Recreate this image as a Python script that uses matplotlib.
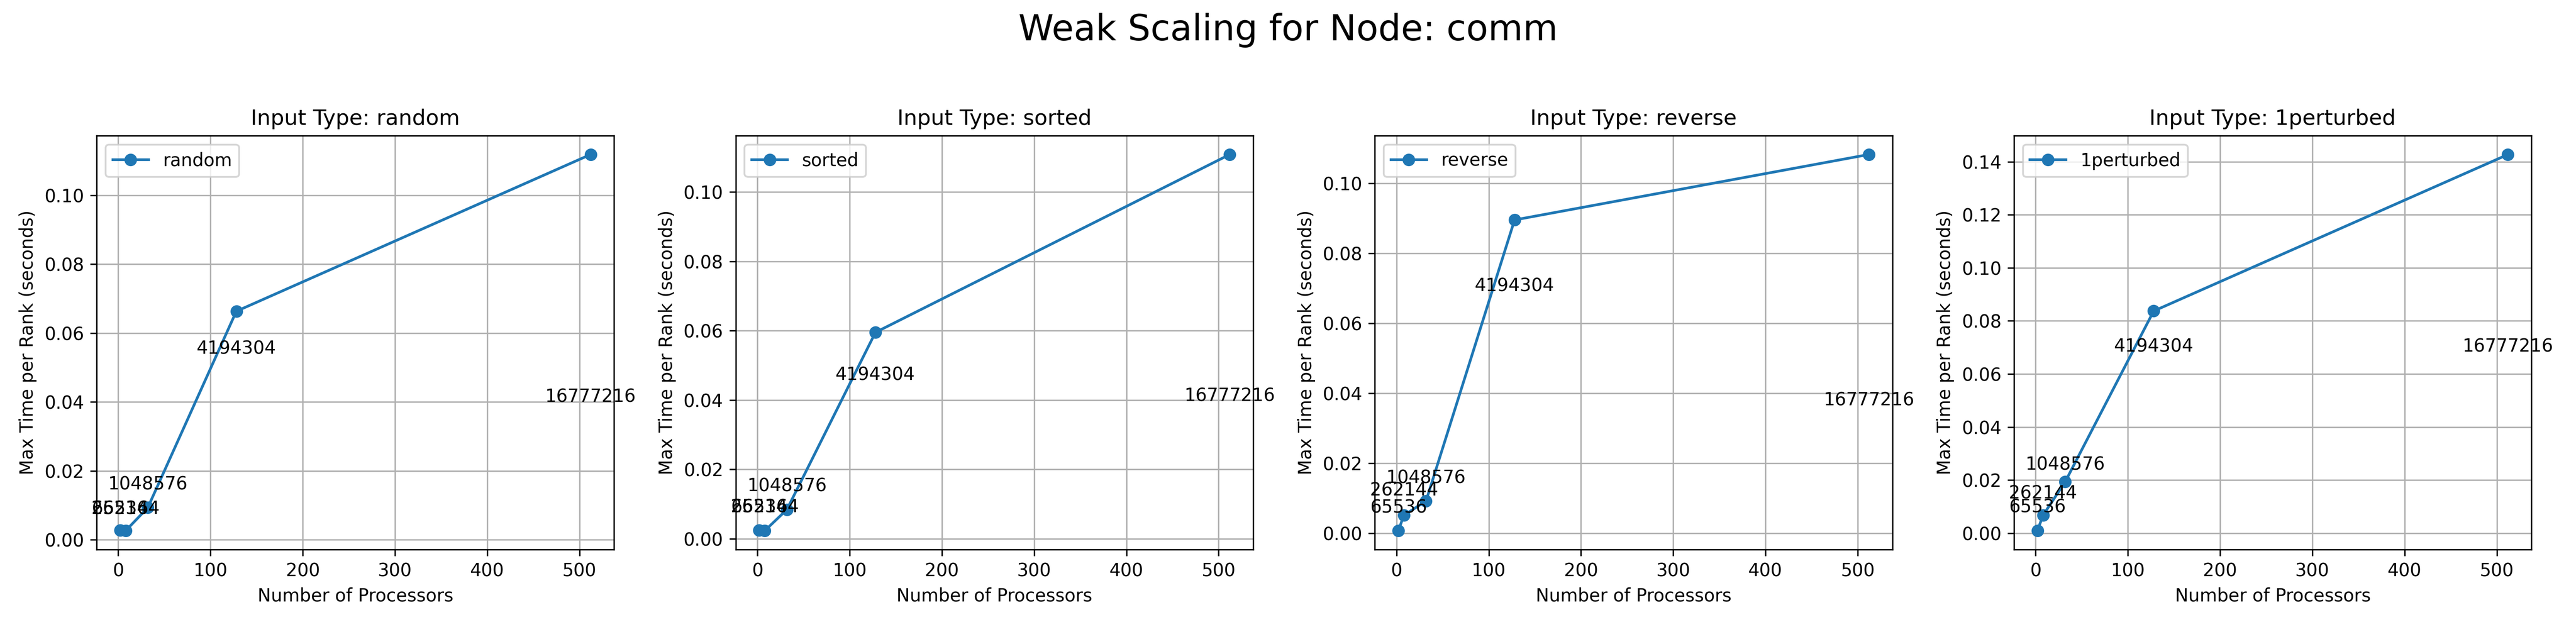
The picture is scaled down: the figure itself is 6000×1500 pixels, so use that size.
import matplotlib
matplotlib.use("Agg")
import matplotlib.pyplot as plt

# processor counts and problem sizes (weak scaling)
procs = [2, 8, 32, 128, 512]
sizes = ["65536", "262144", "1048576", "4194304", "16777216"]
input_types = ["random", "sorted", "reverse", "1perturbed"]

# max time per rank (seconds)
time_random = [0.0027, 0.0026, 0.0093, 0.0663, 0.1118]
time_sorted = [0.0025, 0.0023, 0.0084, 0.0595, 0.1108]
time_reverse = [0.0007, 0.0051, 0.0092, 0.0895, 0.1082]
time_1perturbed = [0.0009, 0.0067, 0.0193, 0.0837, 0.1427]

# y positions of the size labels
label_y_random = [0.0089, 0.0089, 0.0160, 0.0554, 0.0414]
label_y_sorted = [0.0091, 0.0091, 0.0151, 0.0472, 0.0411]
label_y_reverse = [0.0073, 0.0122, 0.0157, 0.0706, 0.0380]
label_y_1perturbed = [0.0097, 0.0150, 0.0257, 0.0703, 0.0703]

times = [time_random, time_sorted, time_reverse, time_1perturbed]
label_ys = [label_y_random, label_y_sorted, label_y_reverse, label_y_1perturbed]

fig, axes = plt.subplots(1, 4, figsize=(20, 5), dpi=300)

for ax, name, t, ly in zip(axes, input_types, times, label_ys):
    ax.plot(procs, t, marker='o', label=name)
    for x, y, s in zip(procs, ly, sizes):
        ax.text(x, y, s, ha='center', va='center', fontsize=10)
    ax.set_title(f"Input Type: {name}")
    ax.set_xlabel("Number of Processors")
    ax.set_ylabel("Max Time per Rank (seconds)")
    ax.grid(True)
    ax.legend(loc='upper left')

fig.suptitle("Weak Scaling for Node: comm", fontsize=20)
plt.subplots_adjust(left=0.0375, right=0.9827, top=0.7893, bottom=0.1467, wspace=0.235)
plt.savefig("out.png")
